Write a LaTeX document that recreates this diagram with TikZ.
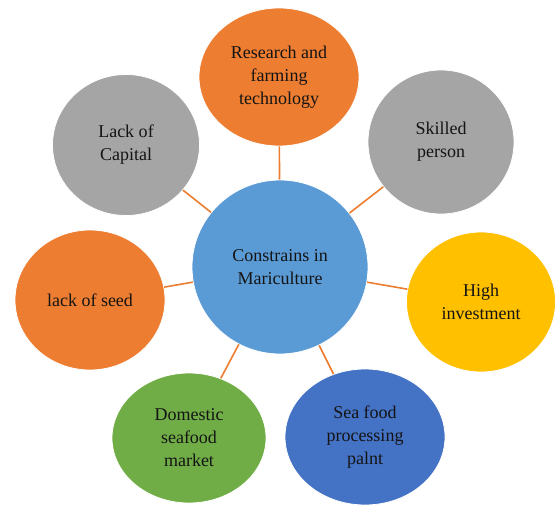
\documentclass[tikz,border=0pt]{standalone}
\usepackage{fontspec}
\setmainfont{Liberation Serif}
\usetikzlibrary{shapes.geometric}
\definecolor{offorange}{HTML}{ED7D31}
\definecolor{offgray}{HTML}{A5A5A5}
\definecolor{offyellow}{HTML}{FFC000}
\definecolor{offblue}{HTML}{4472C4}
\definecolor{offgreen}{HTML}{70AD47}
\definecolor{offsky}{HTML}{5B9BD5}
\definecolor{inktext}{HTML}{141414}
\begin{document}
\begin{tikzpicture}[x=1pt,y=-1pt,
  bubble/.style={ellipse, draw=white, line width=0.8pt, inner sep=0pt,
    align=center, text=inktext, font=\fontsize{18}{23}\selectfont},
  link/.style={draw=offorange, line width=1.6pt}]
  \useasboundingbox[fill=white] (0,0) rectangle (556,505);

  % hub
  \node[bubble, fill=offsky, minimum width=176pt, minimum height=174pt] (hub) at (280,267)
    {Constrains in\\Mariculture};

  % surrounding constraints
  \node[bubble, fill=offorange, minimum width=160pt, minimum height=138pt] (research) at (279,77)
    {Research and\\farming\\technology};
  \node[bubble, fill=offgray, minimum width=146pt, minimum height=144pt] (skilled) at (441,142)
    {Skilled\\person};
  \node[bubble, fill=offyellow, minimum width=149pt, minimum height=140pt] (invest) at (481,302)
    {High\\investment};
  \node[bubble, fill=offblue, minimum width=160pt, minimum height=136pt] (plant) at (365,437)
    {Sea food\\processing\\palnt};
  \node[bubble, fill=offgreen, minimum width=154pt, minimum height=130pt] (market) at (189,438)
    {Domestic\\seafood\\market};
  \node[bubble, fill=offorange, minimum width=150pt, minimum height=140pt] (seed) at (90,300)
    {lack of seed};
  \node[bubble, fill=offgray, minimum width=147pt, minimum height=141pt] (capital) at (126,145)
    {Lack of\\Capital};

  % spokes
  \foreach \n in {research,skilled,invest,plant,market,seed,capital}
    \draw[link] (hub) -- (\n);
\end{tikzpicture}
\end{document}
